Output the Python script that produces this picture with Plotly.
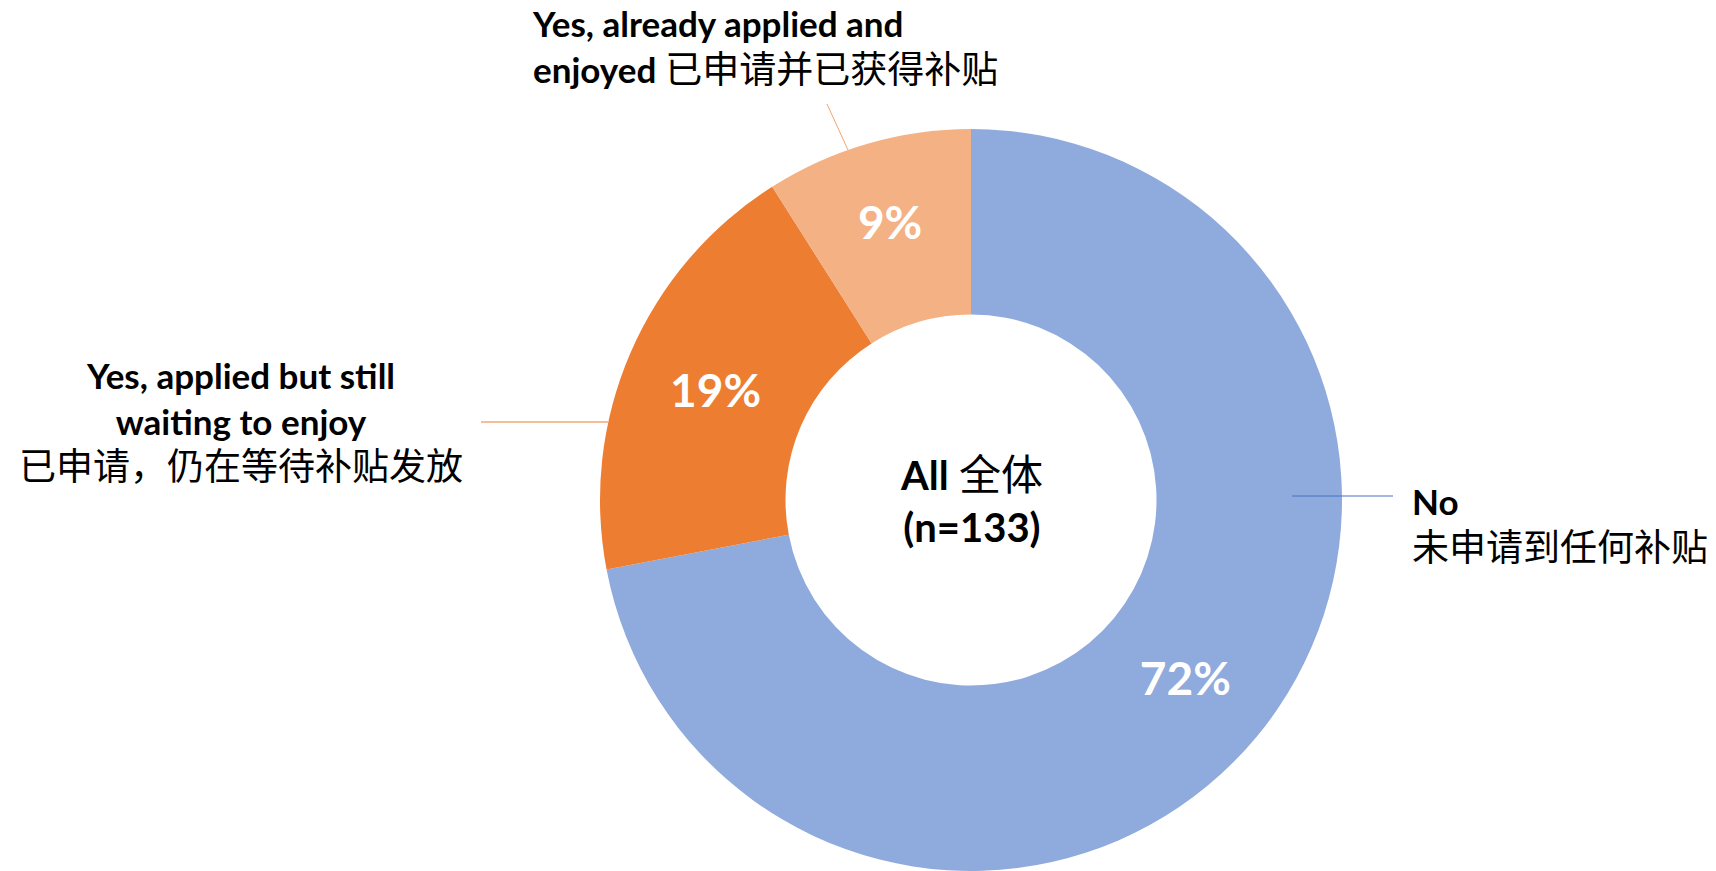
import plotly.graph_objects as go

# ---- data ----
categories = ["No", "Yes, applied but still waiting to enjoy", "Yes, already applied and enjoyed"]
values = [72, 19, 9]
pct_text = ["72%", "19%", "9%"]
colors = ["#8FAADC", "#ED7D31", "#F4B183"]


def cjk(s, size=37):
    return f"<span style='font-size:{size}px'>{s}</span>"


label_no = "<b>No</b><br>" + cjk("未申请到任何补贴")
label_wait = "<b>Yes, applied but still</b><br><b>waiting to enjoy</b><br>" + cjk("已申请，仍在等待补贴发放")
label_done = "<b>Yes, already applied and</b><br><b>enjoyed</b> " + cjk("已申请并已获得补贴")
center_text = "<b>All</b> " + cjk("全体", 42) + "<br><b>(n=133)</b>"

W, H = 1716, 871
FONT = "Lato, 'Noto Sans CJK SC', sans-serif"


def px(x):
    return x / W


def py(y):
    return 1 - y / H


cx, cy, r = 971, 500, 371

fig = go.Figure(go.Pie(
    labels=categories,
    values=values,
    text=pct_text,
    textinfo="text",
    textposition="inside",
    insidetextorientation="horizontal",
    textfont=dict(family=FONT, size=46, color="white", weight="bold"),
    marker=dict(colors=colors, line=dict(width=0)),
    hole=0.5,
    sort=False,
    direction="clockwise",
    rotation=0,
    domain=dict(x=[px(cx - r), px(cx + r)], y=[py(cy + r), py(cy - r)]),
    showlegend=False,
    hoverinfo="label+percent",
))

ann = [
    dict(text=center_text, x=px(cx), y=py(cy), xanchor="center", yanchor="middle",
         align="center", font=dict(size=40)),
    dict(text=label_done, x=px(530), y=py(47), xanchor="left", yanchor="middle",
         align="left", font=dict(size=35)),
    dict(text=label_wait, x=px(241), y=py(421), xanchor="center", yanchor="middle",
         align="center", font=dict(size=35)),
    dict(text=label_no, x=px(1410), y=py(524), xanchor="left", yanchor="middle",
         align="left", font=dict(size=35)),
]
for a in ann:
    a.update(xref="paper", yref="paper", showarrow=False)
    a["font"].update(family=FONT, color="black")

shapes = [
    dict(type="line", x0=px(827), y0=py(104), x1=px(848), y1=py(150), line=dict(color="#F4A46E", width=1)),
    dict(type="line", x0=px(481), y0=py(422), x1=px(608), y1=py(422), line=dict(color="#ED7D31", width=1)),
    dict(type="line", x0=px(1292), y0=py(496), x1=px(1393), y1=py(496), line=dict(color="#4472C4", width=1)),
]
for s in shapes:
    s.update(xref="paper", yref="paper", layer="above")

fig.update_layout(
    width=W, height=H,
    margin=dict(l=0, r=0, t=0, b=0),
    paper_bgcolor="white", plot_bgcolor="white",
    annotations=ann, shapes=shapes,
    font=dict(family=FONT),
)

fig.write_html("out.html")
